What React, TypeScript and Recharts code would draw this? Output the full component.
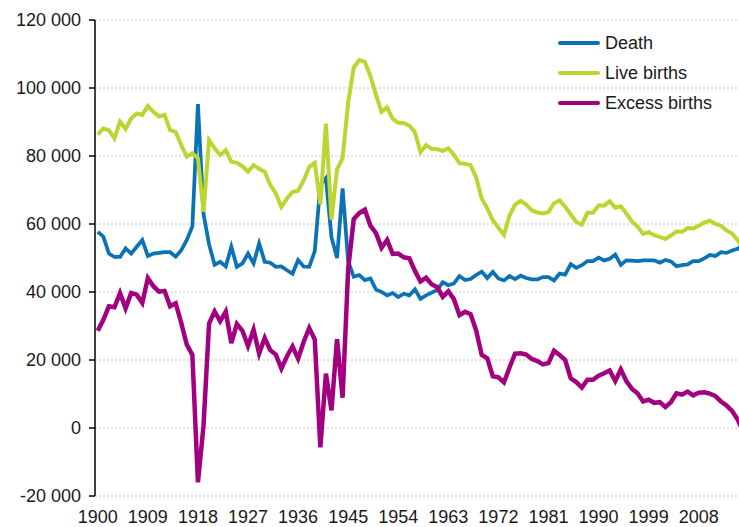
import { LineChart, Line, XAxis, YAxis, CartesianGrid, Legend } from 'recharts';

const years = Array.from({ length: 117 }, (_, i) => 1900 + i);

// 1900–2016
const deaths = [
  57700, 56300, 51300, 50300, 50300, 52800, 51300, 53300, 55300, 50600,
  51300, 51500, 51700, 51700, 50400, 52300, 55300, 59300, 95300, 63000,
  54000, 48000, 48900, 47500, 53300, 47400, 48400, 51300, 48400, 54300,
  48900, 48600, 47400, 47500, 46400, 45400, 49400, 47500, 47400, 52000,
  71500, 73500, 56100, 50000, 70500, 49000, 44500, 45000, 43500, 44000,
  40700, 40000, 39000, 39700, 38500, 39500, 39000, 40800, 38000, 39000,
  39800, 40600, 42900, 42000, 42500, 44700, 43500, 43800, 45000, 46000,
  44100, 45900, 44000, 43400, 44700, 43800, 44800, 44100, 43700, 43700,
  44400, 44400, 43400, 45400, 45100, 48200, 47100, 47900, 49100, 49100,
  50100, 49300, 49800, 51000, 48000, 49300, 49200, 49100, 49300, 49300,
  49300, 48600, 49400, 49000, 47600, 47900, 48100, 49100, 49100, 49900,
  50900, 50600, 51700, 51500, 52200, 52700, 53900,
];

const liveBirths = [
  86300, 88100, 87600, 85200, 90100, 88000, 91000, 92500, 92100, 94700,
  93000, 91600, 92100, 87600, 87100, 83200, 79800, 80800, 79300, 63600,
  84700, 82300, 80300, 81700, 78300, 78000, 77000, 75400, 77300, 76200,
  75400, 71500, 69000, 65000, 67500, 69400, 69800, 72800, 76800, 78000,
  65800, 89500, 61300, 76100, 79400, 95700, 106000, 108200, 107700, 103500,
  98000, 93000, 94300, 90900, 89800, 89700, 88900, 87000, 81100, 83200,
  82100, 82000, 81500, 82200, 80400, 77900, 77700, 77300, 73700, 67500,
  64600, 61100, 58900, 56800, 62500, 65700, 66800, 65700, 64000, 63400,
  63100, 63500, 66100, 66900, 65100, 62800, 60600, 59800, 63300, 63300,
  65500, 65400, 66700, 64800, 65200, 63100, 60700, 59300, 57100, 57600,
  56700, 56200, 55600, 56600, 57800, 57700, 58800, 58700, 59500, 60400,
  61000, 60000, 59500, 58100, 57200, 55200, 52800,
];

const excessBirths = [
  28600, 31800, 35800, 35500, 39700, 35200, 39700, 39200, 36800, 44100,
  41700, 40100, 40300, 35800, 36700, 30900, 24500, 21500, -16000, 600,
  30700, 34300, 31400, 34200, 25000, 30600, 28600, 24100, 28900, 21900,
  26500, 22900, 21600, 17500, 21100, 24000, 20400, 25300, 29400, 26000,
  -5700, 16000, 5200, 26100, 8900, 46700, 61500, 63200, 64200, 59500,
  57300, 53000, 55300, 51200, 51300, 50200, 49900, 46200, 43100, 44200,
  42300, 41400, 38600, 40200, 37900, 33200, 34200, 33500, 28700, 21500,
  20500, 15200, 14900, 13400, 17800, 21900, 22000, 21600, 20300, 19700,
  18700, 19100, 22700, 21500, 20000, 14600, 13500, 11900, 14200, 14200,
  15400, 16100, 16900, 13800, 17200, 13800, 11500, 10200, 7800, 8300,
  7400, 7600, 6200, 7600, 10200, 9800, 10700, 9600, 10400, 10500,
  10100, 9400, 7800, 6600, 5000, 2500, -1100,
];

const xTicks = [1900, 1909, 1918, 1927, 1936, 1945, 1954, 1963, 1972, 1981, 1990, 1999, 2008];
const yTicks = [-20000, 0, 20000, 40000, 60000, 80000, 100000, 120000];

const data = years.map((year, i) => ({
  year,
  death: deaths[i],
  live: liveBirths[i],
  excess: excessBirths[i],
}));

const series = [
  { key: 'death', name: 'Death', color: '#0b72b5', width: 3.75 },
  { key: 'live', name: 'Live births', color: '#bcd530', width: 4 },
  { key: 'excess', name: 'Excess births', color: '#a3007f', width: 4.5 },
];

const FONT = '"Liberation Sans", Arial, sans-serif';
const fmt = (v: number) => String(v).replace(/\B(?=(\d{3})+(?!\d))/g, ' ');

const LegendBox = () => (
  <div style={{ fontFamily: FONT, fontSize: 18, color: '#1a1a1a' }}>
    {series.map((s) => (
      <div key={s.key} style={{ display: 'flex', alignItems: 'center', height: 30 }}>
        <div style={{ width: 42, height: s.width, background: s.color, borderRadius: 2, marginRight: 5 }} />
        <span>{s.name}</span>
      </div>
    ))}
  </div>
);

export default function App() {
  return (
    <div style={{ position: 'absolute', left: 0, top: 0, width: 739, height: 527, overflow: 'hidden', background: '#fff' }}>
      <LineChart width={746} height={527} data={data} margin={{ top: 20, right: 0, bottom: 0, left: 0 }}>
        <CartesianGrid vertical={false} stroke="#c4c4c4" strokeDasharray="2 2" />
        <XAxis
          dataKey="year"
          type="number"
          domain={[1899.5, 2016.5]}
          ticks={xTicks}
          interval={0}
          axisLine={false}
          tickLine={false}
          tickSize={6}
          tickMargin={8}
          height={31}
          tick={{ fill: '#1a1a1a', fontSize: 18, fontFamily: FONT }}
        />
        <YAxis
          type="number"
          domain={[-20000, 120000]}
          ticks={yTicks}
          interval={0}
          width={95}
          tickFormatter={fmt}
          axisLine={{ stroke: '#000', strokeWidth: 1.5 }}
          tickLine={{ stroke: '#000', strokeWidth: 1.5 }}
          tickSize={6}
          tickMargin={8}
          tick={{ fill: '#1a1a1a', fontSize: 18, fontFamily: FONT }}
        />
        <Legend
          content={() => <LegendBox />}
          layout="horizontal"
          verticalAlign="middle"
          align="center"
          wrapperStyle={{ position: 'absolute', left: 558, top: 28, width: 180, height: 90 }}
        />
        {series.map((s) => (
          <Line
            key={s.key}
            type="linear"
            dataKey={s.key}
            name={s.name}
            stroke={s.color}
            strokeWidth={s.width}
            dot={false}
            isAnimationActive={false}
          />
        ))}
      </LineChart>
    </div>
  );
}
